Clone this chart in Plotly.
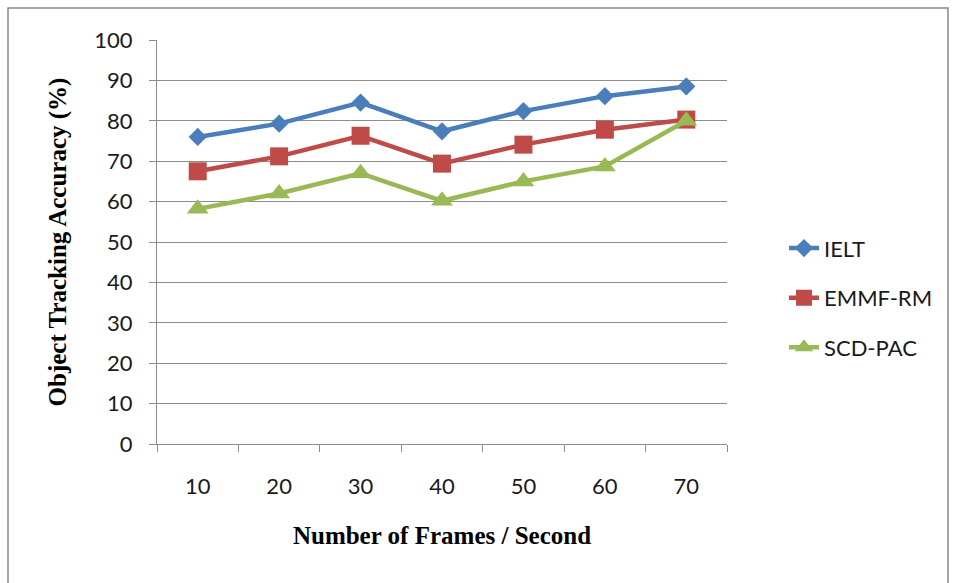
import plotly.graph_objects as go

# Frames per second (category labels)
frames = ["10", "20", "30", "40", "50", "60", "70"]

# Object tracking accuracy (%) for each method
ielt = [76.0, 79.3, 84.5, 77.4, 82.4, 86.1, 88.5]
emmf_rm = [67.5, 71.2, 76.3, 69.4, 74.1, 77.8, 80.3]
scd_pac = [58.2, 62.0, 67.0, 60.2, 65.0, 68.7, 80.0]

series = [
    ("IELT", ielt, "#4A7EBB", "diamond", 14),
    ("EMMF-RM", emmf_rm, "#BE4B48", "square", 18),
    ("SCD-PAC", scd_pac, "#98B954", "triangle-up", 19),
]

fig = go.Figure()
for i, (name, vals, color, symbol, msize) in enumerate(series):
    fig.add_trace(go.Scatter(
        x=frames, y=vals, name=name, mode="lines+markers",
        line=dict(color=color, width=4.5),
        marker=dict(symbol=symbol, size=msize, color=color),
        legendgroup=f"g{i}",
    ))

grid = "#8C8C8C"
tick_font = dict(family="Lato, 'Open Sans', sans-serif", size=22, color="#1a1a1a")
title_font = dict(family="'Liberation Serif', 'Times New Roman', serif", size=25, color="#000000")

fig.update_layout(
    width=955, height=583,
    margin=dict(l=157, r=228, t=40, b=139),
    paper_bgcolor="white", plot_bgcolor="white",
    showlegend=True,
    legend=dict(
        x=1.1, y=0.362, xanchor="left", yanchor="middle",
        font=dict(family="Lato, 'Open Sans', sans-serif", size=22, color="#1a1a1a"),
        tracegroupgap=18, bgcolor="rgba(0,0,0,0)",
    ),
    xaxis=dict(
        type="category", range=[-0.5, 6.5],
        showgrid=False, showline=True, linecolor=grid, linewidth=1,
        ticks="outside", ticklen=7, tickcolor=grid, tickson="boundaries",
        tickfont=tick_font, ticklabelstandoff=23,
        title=dict(text="<b>Number of Frames / Second</b>", font=title_font, standoff=28),
    ),
    yaxis=dict(
        range=[0, 100], tickvals=list(range(0, 101, 10)),
        showgrid=True, gridcolor=grid, gridwidth=1,
        showline=True, linecolor=grid, linewidth=1,
        ticks="outside", ticklen=7, tickcolor=grid,
        tickfont=tick_font, ticklabelstandoff=12, zeroline=False,
        title=dict(text="<b>Object Tracking Accuracy (%)</b>", font=title_font, standoff=20),
    ),
    shapes=[dict(
        type="rect", xref="paper", yref="paper",
        x0=-149 / 570, x1=(948 - 157) / 570, y0=-150 / 404, y1=(444 - 8) / 404,
        line=dict(color="#888888", width=1.5), fillcolor="rgba(0,0,0,0)", layer="below",
    )],
)

fig.write_html("out.html")
